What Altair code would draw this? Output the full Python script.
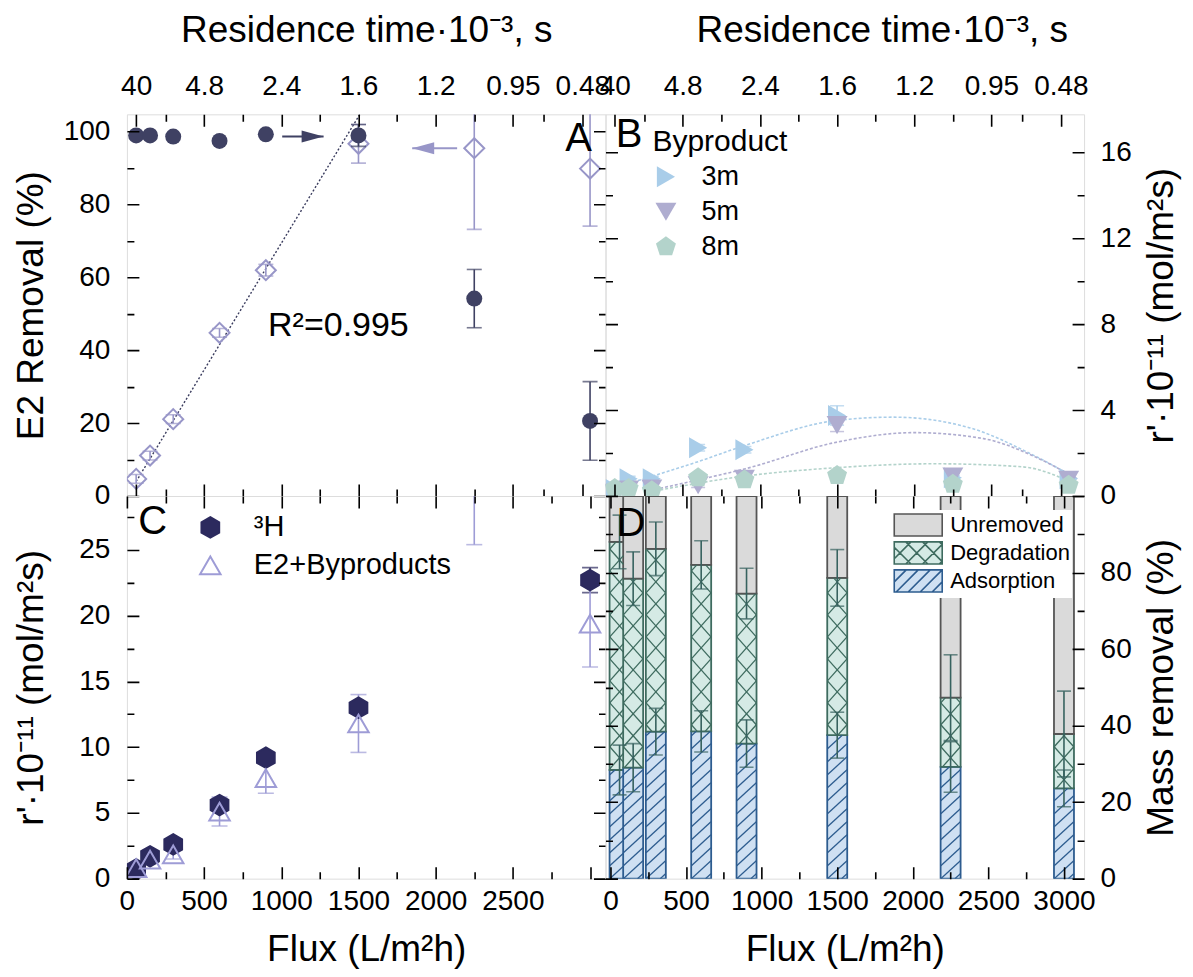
import altair as alt
import pandas as pd

FONT = "Liberation Sans"

# ---------------- data ----------------
flux = [60, 150, 300, 600, 900, 1500, 2250, 3000]

# Panel A - E2 removal (%)
a_circle = [99.0, 99.0, 98.7, 97.5, 99.3, 99.0, 54.2, 20.6]
a_circle_err = [0.0, 0.0, 0.0, 0.0, 0.0, 3.0, 8.0, 10.8]
a_diamond = [4.7, 11.1, 21.1, 44.8, 62.0, 96.7, 95.5, 89.9]
a_diamond_err = [1.2, 1.2, 1.2, 1.2, 1.6, 5.3, 22.3, 15.8]
a_fit_flux = [60, 1512]
a_fit_val = [4.0, 105.0]
arrow_kind = ["removal", "residence"]
arrow_start = [1006, 2139]
arrow_tip = [1274, 1848]
arrow_val = [98.7, 95.5]
r2_text = ["R²=0.995"]
r2_flux = [1370]
r2_val = [46.8]

# residence-time axis (top)
res_flux = [60, 500, 1000, 1500, 2000, 2500, 2950]
res_labels = ["40", "4.8", "2.4", "1.6", "1.2", "0.95", "0.48"]
res_minor = [250, 750, 1250, 1750, 2250, 2700]

# Panel B - byproducts r' (x1e-11 mol/m2 s)
byp_names = ["3m", "5m", "8m"]
b_3m = [0.3, 0.8, 0.8, 2.25, 2.15, 3.75, 0.85, 0.8]
b_5m = [0.15, 0.3, 0.35, 0.5, 0.8, 3.3, 0.9, 0.75]
b_8m = [0.35, 0.35, 0.25, 0.85, 0.75, 0.95, 0.55, 0.5]
b_3m_err = [0.1, 0.12, 0.12, 0.15, 0.15, 0.45, 0.1, 0.12]
b_5m_err = [0.1, 0.1, 0.1, 0.1, 0.12, 0.3, 0.15, 0.12]
b_8m_err = [0.1, 0.1, 0.1, 0.12, 0.12, 0.12, 0.1, 0.1]
fit_3m_flux = [180, 600, 907, 1500, 1867, 2342, 2774, 3055]
fit_3m_val = [0.65, 1.6, 2.36, 3.52, 3.67, 3.21, 1.89, 0.8]
fit_5m_flux = [291, 600, 907, 1500, 1997, 2450, 2774, 3055]
fit_5m_val = [0.26, 0.75, 1.27, 2.51, 2.95, 2.67, 1.85, 0.8]
fit_8m_flux = [291, 907, 1500, 2127, 2698, 3055]
fit_8m_val = [0.2, 0.93, 1.32, 1.5, 1.36, 0.5]

# Panel C - r' (x1e-11 mol/m2 s)
c_names = ["³H", "E2+Byproducts"]
c_h3 = [0.7, 1.7, 2.6, 5.6, 9.2, 13.0, None, 22.7]
c_h3_err = [0.15, 0.2, 0.2, 0.35, 0.3, 0.4, None, 0.95]
c_e2b = [0.8, 1.45, 1.85, 5.1, 7.65, 11.8, 33.0, 19.4]
c_e2b_err = [0.3, 0.3, 0.35, 1.1, 1.15, 2.2, 7.6, 3.3]

# Panel D - mass removal (%)
d_cats = ["Unremoved", "Degradation", "Adsorption"]
d_adsorption = [28.4, 29.0, 38.4, 38.5, 35.3, 37.5, 29.2, 23.6]
d_degradation = [59.6, 49.4, 47.8, 43.5, 39.2, 41.1, 18.1, 14.2]
d_unremoved = [12.0, 21.6, 13.8, 18.0, 25.5, 21.4, 52.7, 62.2]
d_ads_err = [6.5, 6.3, 6.1, 5.4, 6.2, 6.0, 6.6, 4.8]
d_deg_err = [7.0, 7.0, 7.0, 6.3, 6.6, 7.4, 11.2, 11.2]

panel_letter = ["A", "B", "C", "D"]
letter_flux = [2926, 152, 167, 136]
letter_val = [97.9, 16.8, 27.1, 92.8]

# ---------------- styling ----------------
W, HT, HB = 479, 382, 383
CIRC, DIA, FIT = "#3f4163", "#9896c8", "#3a3c5e"
B_COLORS = ["#a9cde9", "#afadd0", "#b3d3cb"]
HEX, TRI = "#2c2a5e", "#9e9cd6"
D_FILL = ["#dadada", "#d5eae5", "#cfe0f2"]
D_STROKE = ["#555555", "#3e6b5f", "#2d5c8f"]
D_ERR = "#37625f"

HEXAGON = "M0,-1L0.866,-0.5L0.866,0.5L0,1L-0.866,0.5L-0.866,-0.5Z"
PENTAGON = "M0,-1L0.951,-0.309L0.588,0.809L-0.588,0.809L-0.951,-0.309Z"
HEAD_R = "M0,0L-2,-0.55L-2,0.55Z"
HEAD_L = "M0,0L2,-0.55L2,0.55Z"


def swatch(dirs, sp, w=2.0, h=0.92):
    p = f"M{-w},{-h}L{w},{-h}L{w},{h}L{-w},{h}Z"
    for d in dirs:
        c = -w - h
        while c <= w + h:
            x1, x2 = max(c - h, -w), min(c + h, w)
            if x2 - x1 > 0.05:
                p += f"M{x1:.3f},{-d * (x1 - c):.3f}L{x2:.3f},{-d * (x2 - c):.3f}"
            c += sp
    return p


D_SHAPES = [swatch([], 1), swatch([1, -1], 1.4), swatch([1], 1.0)]

AX = dict(labelFont=FONT, titleFont=FONT, labelFontSize=28,
          labelColor="black", titleColor="black", titleFontWeight="normal",
          labelOverlap=False, labelFlush=False, domain=False, ticks=False, tickSize=0,
          grid=True, gridColor="black", gridOpacity=1, gridWidth=1.6, zindex=1)


def gdash(L, test, major=12, minor=7):
    return {"condition": {"test": test, "value": [major, L - 2 * major, major, 6000]},
            "value": [minor, L - 2 * minor, minor, 6000]}


res_expr = "".join(f"datum.value === {f} ? '{l}' : " for f, l in zip(res_flux, res_labels)) + "''"
res_test = f"indexof({res_flux}, datum.value) >= 0"


def top_axis(**kw):
    return alt.Axis(orient="top", values=sorted(res_flux + res_minor), labelExpr=res_expr,
                    title="Residence time·10⁻³, s", titleFontSize=37, gridDash=gdash(HT, res_test),
                    labelPadding=14, minExtent=42, maxExtent=42, titlePadding=23, **kw, **AX)


def bottom_axis(last):
    return alt.Axis(orient="bottom", values=list(range(0, 3001, 250)), format="d",
                    labelExpr=f"datum.value % 500 === 0 && datum.value <= {last} ? datum.label : ''",
                    title="Flux (L/m²h)", titleFontSize=37, gridDash=gdash(HB, "datum.value % 500 === 0"),
                    labelPadding=9, minExtent=36, maxExtent=36, titlePadding=17, **AX)


def left_axis(values, major, title):
    return alt.Axis(orient="left", values=values,
                    labelExpr=f"datum.value % {major} === 0 ? datum.label : ''",
                    title=title, titleFontSize=37, gridDash=gdash(W, f"datum.value % {major} === 0"),
                    labelPadding=17, minExtent=64, maxExtent=64, titlePadding=12, **AX)


def right_axis(values, major, maxlab, title):
    return alt.Axis(orient="right", values=values,
                    labelExpr=f"datum.value % {major} === 0 && datum.value <= {maxlab} ? datum.label : ''",
                    title=title, titleFontSize=37, gridDash=gdash(W, f"datum.value % {major} === 0"),
                    labelPadding=16, minExtent=49, maxExtent=49, titlePadding=10,
                    titleAngle=270, titleBaseline="top", **AX)


def make_xy(xaxis, ydom, yaxis):
    def xf(f="flux"):
        return alt.X(f"{f}:Q", scale=alt.Scale(domain=[0, 3100], nice=False, zero=False), axis=xaxis)

    def yf(f):
        return alt.Y(f"{f}:Q", scale=alt.Scale(domain=ydom, nice=False, zero=False), axis=yaxis)
    return xf, yf


def errorbars(df, yfield, efield, xf, yf, cap=15, width=1.6, enc=None, **mk):
    enc = enc or {}
    base = (alt.Chart(df)
            .transform_filter(f"isValid(datum['{efield}']) && datum['{efield}'] > 0")
            .transform_calculate(lo=f"datum['{yfield}'] - datum['{efield}']",
                                 hi=f"datum['{yfield}'] + datum['{efield}']"))
    rule = base.mark_rule(strokeWidth=width, clip=True, **mk).encode(
        x=xf("flux"), y=yf("lo"), y2="hi:Q", **enc)
    caps = (base.transform_fold(["lo", "hi"], as_=["end", "yv"])
            .mark_tick(orient="horizontal", size=cap, thickness=width, clip=True, **mk)
            .encode(x=xf("flux"), y=yf("yv"), **enc))
    return [rule, caps]


def letter(i, xf, yf):
    df = pd.DataFrame({"flux": [letter_flux[i]], "val": [letter_val[i]], "t": [panel_letter[i]]})
    return alt.Chart(df).mark_text(font=FONT, fontSize=40, color="black", align="center",
                                   baseline="middle").encode(x=xf(), y=yf("val"), text="t:N")


# ---------------- Panel A ----------------
xa, ya = make_xy(top_axis(), [0, 104.8], left_axis(list(range(0, 101, 10)), 20, "E2 Removal (%)"))
dfA = pd.DataFrame({"flux": flux, "circ": a_circle, "circ_err": a_circle_err,
                    "dia": a_diamond, "dia_err": a_diamond_err})
fitA = alt.Chart(pd.DataFrame({"flux": a_fit_flux, "val": a_fit_val})).mark_line(
    color=FIT, strokeDash=[2, 2], strokeWidth=1.4, clip=True).encode(x=xa(), y=ya("val"))
diamonds = alt.Chart(dfA).mark_point(shape="diamond", size=400, filled=False, color=DIA,
                                     strokeWidth=2, opacity=1, clip=True).encode(x=xa(), y=ya("dia"))
circles = alt.Chart(dfA).mark_circle(size=256, color=CIRC, opacity=1, clip=True).encode(
    x=xa(), y=ya("circ"))
dfArrow = pd.DataFrame({"kind": arrow_kind, "x0": arrow_start, "flux": arrow_tip, "val": arrow_val})
arr_col = alt.Color("kind:N", scale=alt.Scale(domain=arrow_kind, range=[CIRC, DIA]), legend=None)
shafts = alt.Chart(dfArrow).mark_rule(strokeWidth=2).encode(
    x=xa("x0"), x2="flux:Q", y=ya("val"), color=arr_col)
heads = alt.Chart(dfArrow).mark_point(filled=True, size=484, opacity=1).encode(
    x=xa(), y=ya("val"), color=arr_col,
    shape=alt.Shape("kind:N", scale=alt.Scale(domain=arrow_kind, range=[HEAD_R, HEAD_L]), legend=None))
r2 = alt.Chart(pd.DataFrame({"flux": r2_flux, "val": r2_val, "t": r2_text})).mark_text(
    font=FONT, fontSize=34, color="black", align="center", baseline="middle").encode(
    x=xa(), y=ya("val"), text="t:N")
panelA = alt.layer(
    fitA, *errorbars(dfA, "dia", "dia_err", xa, ya, color=DIA), diamonds,
    *errorbars(dfA, "circ", "circ_err", xa, ya, color=CIRC), circles,
    shafts, heads, r2, letter(0, xa, ya)
).properties(width=W, height=HT)

# ---------------- Panel B ----------------
xb, yb = make_xy(top_axis(titleX=W / 2 + 37), [0, 17.77],
                 right_axis(list(range(0, 17, 2)), 4, 16, "r'·10⁻¹¹ (mol/m²s)"))
rowsB = []
for name, vals, errs in zip(byp_names, [b_3m, b_5m, b_8m], [b_3m_err, b_5m_err, b_8m_err]):
    for f, v, e in zip(flux, vals, errs):
        rowsB.append({"series": name, "flux": f, "val": v, "err": e})
dfB = pd.DataFrame(rowsB)
rowsF = []
for name, fx, fv in zip(byp_names, [fit_3m_flux, fit_5m_flux, fit_8m_flux],
                        [fit_3m_val, fit_5m_val, fit_8m_val]):
    for f, v in zip(fx, fv):
        rowsF.append({"series": name, "flux": f, "val": v})
dfBF = pd.DataFrame(rowsF)
legB = alt.Legend(orient="none", legendX=47, legendY=13, title="Byproduct", titleFontSize=30,
                  titleFont=FONT, titleFontWeight="normal", titleColor="black", labelFontSize=27,
                  labelFont=FONT, labelColor="black", symbolSize=440, symbolStrokeWidth=0,
                  rowPadding=7, labelOffset=22, titlePadding=6, padding=0, symbolOpacity=1,
                  labelLimit=400, titleLimit=400)
b_col = alt.Color("series:N", scale=alt.Scale(domain=byp_names, range=B_COLORS), legend=legB)
b_shape = alt.Shape("series:N", scale=alt.Scale(domain=byp_names,
                                                range=["triangle-right", "triangle-down", PENTAGON]),
                    legend=legB)
curves = alt.Chart(dfBF).mark_line(strokeDash=[3, 2], strokeWidth=1.6, interpolate="monotone",
                                   clip=True).encode(x=xb(), y=yb("val"), color=b_col, detail="series:N")
pointsB = alt.Chart(dfB).mark_point(filled=True, size=440, opacity=1, clip=True).encode(
    x=xb(), y=yb("val"), color=b_col, shape=b_shape)
panelB = alt.layer(
    curves, *errorbars(dfB, "val", "err", xb, yb, cap=14, width=1.5, enc={"color": b_col}),
    pointsB, letter(1, xb, yb)
).properties(width=W, height=HT)

# ---------------- Panel C ----------------
xc, yc = make_xy(bottom_axis(2500), [0, 29.1],
                 left_axis([i * 2.5 for i in range(12)], 5, "r'·10⁻¹¹ (mol/m²s)"))
rowsC = []
for name, vals, errs in zip(c_names, [c_h3, c_e2b], [c_h3_err, c_e2b_err]):
    for f, v, e in zip(flux, vals, errs):
        if v is not None:
            rowsC.append({"series": name, "flux": f, "val": v, "err": e})
dfC = pd.DataFrame(rowsC)
legC = alt.Legend(orient="none", legendX=69, legendY=17, title=None, labelFontSize=29,
                  labelFont=FONT, labelColor="black", symbolSize=420, symbolStrokeWidth=2,
                  rowPadding=8, labelOffset=29, padding=0, symbolOpacity=1, labelLimit=400)
pointsC = alt.Chart(dfC).mark_point(size=420, strokeWidth=2, opacity=1, clip=True).encode(
    x=xc(), y=yc("val"),
    shape=alt.Shape("series:N", scale=alt.Scale(domain=c_names, range=[HEXAGON, "triangle-up"]), legend=legC),
    fill=alt.Fill("series:N", scale=alt.Scale(domain=c_names, range=[HEX, "transparent"]), legend=legC),
    stroke=alt.Stroke("series:N", scale=alt.Scale(domain=c_names, range=[HEX, TRI]), legend=legC))
dfC_h3 = dfC[dfC["series"] == c_names[0]]
dfC_e2b = dfC[dfC["series"] == c_names[1]]
panelC = alt.layer(
    *errorbars(dfC_h3, "val", "err", xc, yc, cap=16, width=1.6, color=HEX),
    *errorbars(dfC_e2b, "val", "err", xc, yc, cap=16, width=1.6, color=TRI),
    pointsC, letter(2, xc, yc)
).properties(width=W, height=HB)

# ---------------- Panel D ----------------
xd, yd = make_xy(bottom_axis(3000), [0, 100],
                 right_axis(list(range(0, 101, 10)), 20, 80, "Mass removal (%)"))
rowsD = []
for i, f in enumerate(flux):
    lo = 0.0
    for cat, vals in [("Adsorption", d_adsorption), ("Degradation", d_degradation),
                      ("Unremoved", d_unremoved)]:
        rowsD.append({"flux": f, "cat": cat, "lo": lo, "hi": lo + vals[i]})
        lo += vals[i]
dfD = pd.DataFrame(rowsD)
legD = alt.Legend(orient="none", legendX=298, legendY=14, title=None, labelFontSize=22,
                  labelFont=FONT, labelColor="black", symbolSize=576,
                  symbolStrokeWidth=1.6, rowPadding=-3, labelOffset=19, fillColor="white",
                  padding=2, symbolOpacity=1, labelLimit=400)
d_fill = alt.Fill("cat:N", scale=alt.Scale(domain=d_cats, range=D_FILL), legend=legD)
d_stroke = alt.Stroke("cat:N", scale=alt.Scale(domain=d_cats, range=D_STROKE), legend=legD)
bars = alt.Chart(dfD).mark_bar(size=20, strokeWidth=1.8, clip=True).encode(
    x=xd(), y=yd("lo"), y2="hi:Q", fill=d_fill, stroke=d_stroke)
legend_keys = alt.Chart(dfD).transform_filter("false").mark_point(filled=True, opacity=1).encode(
    x=xd(), y=yd("lo"), fill=d_fill, stroke=d_stroke,
    shape=alt.Shape("cat:N", scale=alt.Scale(domain=d_cats, range=D_SHAPES), legend=legD))

HW = 10 * 3100 / W      # half of a 20 px bar, in flux units
PXY = 100 / HB          # percent per pixel in panel D


def hatch(cat, sp_px, rise_px, sign, color, width=1.3):
    SP, R = sp_px * PXY, rise_px * PXY
    if sign > 0:
        tlo = f"max(0, (datum.lo - datum.ys) / {R})"
        thi = f"min(datum.tx, (datum.hi - datum.ys) / {R})"
    else:
        tlo = f"max(0, (datum.ys - datum.hi) / {R})"
        thi = f"min(datum.tx, (datum.ys - datum.lo) / {R})"
    return (alt.Chart(dfD)
            .transform_filter(f"datum.cat === '{cat}'")
            .transform_window(nextflux="lead(flux)", sort=[alt.SortField("flux")])
            .transform_calculate(
                xr=f"isValid(datum.nextflux) ? min(datum.flux + {HW}, datum.nextflux - {HW}) : datum.flux + {HW}",
                ks=f"sequence(0, ceil((datum.hi - datum.lo + 2 * {R}) / {SP}) + 2)")
            .transform_flatten(["ks"])
            .transform_calculate(tx=f"(datum.xr - datum.flux + {HW}) / {2 * HW}",
                                 ys=f"floor((datum.lo - {R}) / {SP}) * {SP} + datum.ks * {SP}")
            .transform_calculate(tlo=tlo, thi=thi)
            .transform_filter("datum.thi > datum.tlo + 0.001")
            .transform_calculate(xa=f"datum.flux - {HW} + {2 * HW} * datum.tlo",
                                 xb=f"datum.flux - {HW} + {2 * HW} * datum.thi",
                                 ya=f"datum.ys + {sign * R} * datum.tlo",
                                 yb=f"datum.ys + {sign * R} * datum.thi")
            .mark_rule(color=color, strokeWidth=width, clip=True)
            .encode(x=xd("xa"), x2="xb:Q", y=yd("ya"), y2="yb:Q"))


dfDE = pd.DataFrame({"flux": flux, "ads": d_adsorption, "ads_err": d_ads_err,
                     "deg": [a + b for a, b in zip(d_adsorption, d_degradation)],
                     "deg_err": d_deg_err})
panelD = alt.layer(
    bars,
    hatch("Adsorption", 13, 18, 1, D_STROKE[2]),
    hatch("Degradation", 22, 22, 1, D_STROKE[1]),
    hatch("Degradation", 22, 22, -1, D_STROKE[1]),
    *errorbars(dfDE, "ads", "ads_err", xd, yd, cap=14, width=1.6, color=D_ERR),
    *errorbars(dfDE, "deg", "deg_err", xd, yd, cap=14, width=1.6, color=D_ERR),
    legend_keys,
    letter(3, xd, yd)
).properties(width=W, height=HB)

chart = (alt.concat(panelA, panelB, panelC, panelD, columns=2, spacing=0, bounds="flush")
         .resolve_scale(color="independent", fill="independent", stroke="independent",
                        shape="independent")
         .properties(padding={"left": 4, "top": 2, "right": 5, "bottom": 2}, background="white")
         .configure_view(stroke="black", strokeWidth=2)
         .configure(font=FONT))

chart.save("out.html", embed_options={"renderer": "svg", "actions": False})
